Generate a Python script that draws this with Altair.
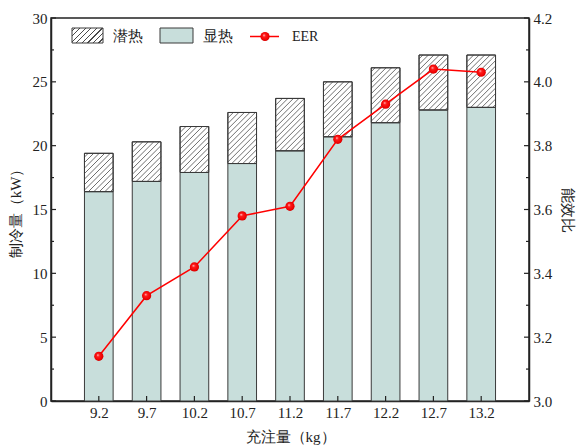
import altair as alt
import pandas as pd

# Refrigerant charge (kg) and measured cooling capacity split (kW), plus EER
charge = [9.2, 9.7, 10.2, 10.7, 11.2, 11.7, 12.2, 12.7, 13.2]
sensible = [16.4, 17.2, 17.9, 18.6, 19.6, 20.7, 21.8, 22.8, 23.0]
latent = [3.0, 3.1, 3.6, 4.0, 4.1, 4.3, 4.3, 4.3, 4.1]
eer = [3.14, 3.33, 3.42, 3.58, 3.61, 3.82, 3.93, 4.04, 4.03]

left_ticks = [0, 5, 10, 15, 20, 25, 30]
left_minor = [2.5, 7.5, 12.5, 17.5, 22.5, 27.5]
right_ticks = [3.0, 3.2, 3.4, 3.6, 3.8, 4.0, 4.2]
right_minor = [3.1, 3.3, 3.5, 3.7, 3.9, 4.1]

W, H = 478, 383
X_DOMAIN = [8.7, 13.7]
Y_DOMAIN = [0, 30]
R_DOMAIN = [3.0, 4.2]
HALF = 0.15                      # half bar width in kg
PX_X = W / (X_DOMAIN[1] - X_DOMAIN[0])
PX_Y = H / (Y_DOMAIN[1] - Y_DOMAIN[0])
BAR_PX = 2 * HALF * PX_X
GAP = 5.5                        # hatch spacing (px, horizontal)

FONT = "Liberation Serif"
INK = "#222222"
TEAL = "#c8dedb"
RED = "#ff0000"

df = pd.DataFrame({"charge": charge, "sensible": sensible, "latent": latent, "eer": eer})

xscale = alt.Scale(domain=X_DOMAIN, nice=False, zero=False)
yscale = alt.Scale(domain=Y_DOMAIN, nice=False)
rscale = alt.Scale(domain=R_DOMAIN, nice=False, zero=False)

xaxis = alt.Axis(values=charge, format=".1f", title="充注量（kg）",
                 labelPadding=4, titlePadding=9)
yaxis = alt.Axis(values=left_ticks, format="d", title="制冷量（kW）",
                 labelPadding=4, titlePadding=9)
raxis = alt.Axis(values=right_ticks, format=".1f", title="能效比", orient="right",
                 labelPadding=4, titlePadding=8)

base = alt.Chart(df).transform_calculate(
    left=f"datum.charge - {HALF}",
    right=f"datum.charge + {HALF}",
    total="datum.sensible + datum.latent",
    zero="0",
)

X = alt.X("left:Q", scale=xscale, axis=xaxis)
X2 = alt.X2("right:Q")

sens_bar = base.mark_bar(fill=TEAL, stroke="#3a3a3a", strokeWidth=1).encode(
    x=X, x2=X2,
    y=alt.Y("sensible:Q", scale=yscale, axis=yaxis), y2="zero:Q",
)
lat_bar = base.mark_bar(fill="white", stroke="#3a3a3a", strokeWidth=1).encode(
    x=X, x2=X2,
    y=alt.Y("total:Q", scale=yscale, axis=yaxis), y2="sensible:Q",
)

# 45-degree hatching inside each latent-heat segment
hatch = base.transform_calculate(
    k="sequence(0, 30)"
).transform_flatten(["k"]).transform_calculate(
    hh=f"datum.latent * {PX_Y}",
    b=f"-{BAR_PX} + (datum.k + 0.5) * {GAP}",
).transform_filter("datum.b < datum.hh").transform_calculate(
    u0="max(0, -datum.b)",
    u1=f"min({BAR_PX}, datum.hh - datum.b)",
).transform_filter("datum.u1 > datum.u0").transform_calculate(
    hx0=f"datum.left + datum.u0 / {PX_X}",
    hx1=f"datum.left + datum.u1 / {PX_X}",
    hy0=f"datum.sensible + (datum.u0 + datum.b) / {PX_Y}",
    hy1=f"datum.sensible + (datum.u1 + datum.b) / {PX_Y}",
).mark_rule(color="#4a4a4a", strokeWidth=0.8).encode(
    x=alt.X("hx0:Q", scale=xscale, axis=xaxis), x2="hx1:Q",
    y=alt.Y("hy0:Q", scale=yscale, axis=yaxis), y2="hy1:Q",
)

lat_outline = base.mark_bar(fillOpacity=0, stroke="#3a3a3a", strokeWidth=1).encode(
    x=X, x2=X2,
    y=alt.Y("total:Q", scale=yscale, axis=yaxis), y2="sensible:Q",
)

# inward tick marks
left_major = alt.Chart(pd.DataFrame({"v": left_ticks})).mark_rule(color=INK, strokeWidth=1.2).encode(
    y=alt.Y("v:Q", scale=yscale, axis=yaxis), x=alt.value(0), x2=alt.value(5))
left_min = alt.Chart(pd.DataFrame({"v": left_minor})).mark_rule(color=INK, strokeWidth=1.2).encode(
    y=alt.Y("v:Q", scale=yscale, axis=yaxis), x=alt.value(0), x2=alt.value(3))
bottom_major = alt.Chart(pd.DataFrame({"c": charge})).mark_rule(color=INK, strokeWidth=1.2).encode(
    x=alt.X("c:Q", scale=xscale, axis=xaxis), y=alt.value(H), y2=alt.value(H - 5))

bars = alt.layer(sens_bar, lat_bar, hatch, lat_outline, left_major, left_min, bottom_major)

ball = alt.RadialGradient(
    gradient="radial",
    stops=[alt.GradientStop(offset=0, color="#ffd6d6"),
           alt.GradientStop(offset=0.3, color="#ff1a1a"),
           alt.GradientStop(offset=0.8, color="#ee0000"),
           alt.GradientStop(offset=1, color="#b80000")],
    x1=0.38, y1=0.35, r1=0, x2=0.5, y2=0.5, r2=0.55,
)

eer_line = alt.Chart(df).mark_line(color=RED, strokeWidth=1.5).encode(
    x=alt.X("charge:Q", scale=xscale, axis=xaxis),
    y=alt.Y("eer:Q", scale=rscale, axis=raxis),
)
eer_pts = alt.Chart(df).mark_point(shape="circle", filled=True, fill=ball, size=85,
                                   opacity=1, strokeWidth=0).encode(
    x=alt.X("charge:Q", scale=xscale, axis=xaxis),
    y=alt.Y("eer:Q", scale=rscale, axis=raxis),
)
right_major = alt.Chart(pd.DataFrame({"v": right_ticks})).mark_rule(color=INK, strokeWidth=1.2).encode(
    y=alt.Y("v:Q", scale=rscale, axis=raxis), x=alt.value(W), x2=alt.value(W - 5))
right_min = alt.Chart(pd.DataFrame({"v": right_minor})).mark_rule(color=INK, strokeWidth=1.2).encode(
    y=alt.Y("v:Q", scale=rscale, axis=raxis), x=alt.value(W), x2=alt.value(W - 3))

eer_group = alt.layer(eer_line, eer_pts, right_major, right_min)

# legend drawn in pixel space along the top of the plot
one = alt.Data(values=[{}])
sw_w, sw_h = 31, 15
lam = (sw_w + sw_h) / (sw_w ** 2 + sw_h ** 2)
stops = [alt.GradientStop(offset=0, color="white")]
period, half_line = 0.12, 0.014
i = 0
while (i + 0.5) * period + half_line < 1:
    c = (i + 0.5) * period
    stops += [alt.GradientStop(offset=c - half_line, color="white"),
              alt.GradientStop(offset=c - half_line, color="#4a4a4a"),
              alt.GradientStop(offset=c + half_line, color="#4a4a4a"),
              alt.GradientStop(offset=c + half_line, color="white")]
    i += 1
stops.append(alt.GradientStop(offset=1, color="white"))
stripes = alt.LinearGradient(gradient="linear", stops=stops,
                             x1=0, y1=0, x2=lam * sw_w, y2=lam * sw_h)

leg_hatch = alt.Chart(one).mark_rect(fill=stripes, stroke="#3a3a3a", strokeWidth=1).encode(
    x=alt.value(21), x2=alt.value(21 + sw_w), y=alt.value(10), y2=alt.value(10 + sw_h))
leg_hatch_txt = alt.Chart(one).mark_text(text="潜热", align="left", baseline="middle",
                                          font=FONT, fontSize=15, color=INK).encode(
    x=alt.value(62), y=alt.value(18))
leg_teal = alt.Chart(one).mark_rect(fill=TEAL, stroke="#3a3a3a", strokeWidth=1).encode(
    x=alt.value(109), x2=alt.value(109 + 33), y=alt.value(10), y2=alt.value(10 + sw_h))
leg_teal_txt = alt.Chart(one).mark_text(text="显热", align="left", baseline="middle",
                                         font=FONT, fontSize=15, color=INK).encode(
    x=alt.value(152), y=alt.value(18))
leg_line = alt.Chart(one).mark_rule(color=RED, strokeWidth=1.5).encode(
    x=alt.value(199), x2=alt.value(228), y=alt.value(18.5))
leg_dot = alt.Chart(one).mark_point(shape="circle", filled=True, fill=ball, size=85,
                                    opacity=1, strokeWidth=0).encode(
    x=alt.value(214), y=alt.value(18.5))
leg_eer_txt = alt.Chart(one).mark_text(text="EER", align="left", baseline="middle",
                                        font=FONT, fontSize=14, color=INK).encode(
    x=alt.value(241), y=alt.value(18.5))

legend = alt.layer(leg_hatch, leg_hatch_txt, leg_teal, leg_teal_txt, leg_line, leg_dot, leg_eer_txt)

chart = alt.layer(bars, eer_group, legend).resolve_scale(y="independent").properties(
    width=W, height=H,
    autosize=alt.AutoSizeParams(type="none"),
    padding={"left": 51, "top": 18, "right": 50, "bottom": 44},
    background="white",
).configure_view(
    stroke=INK, strokeWidth=1.5
).configure_axis(
    labelFont=FONT, titleFont=FONT, labelFontSize=15, titleFontSize=15,
    labelColor=INK, titleColor=INK, titleFontWeight="normal",
    domainColor=INK, domainWidth=1.5, grid=False, ticks=False,
)

chart.save("out.html", embed_options={"renderer": "svg", "actions": False})
